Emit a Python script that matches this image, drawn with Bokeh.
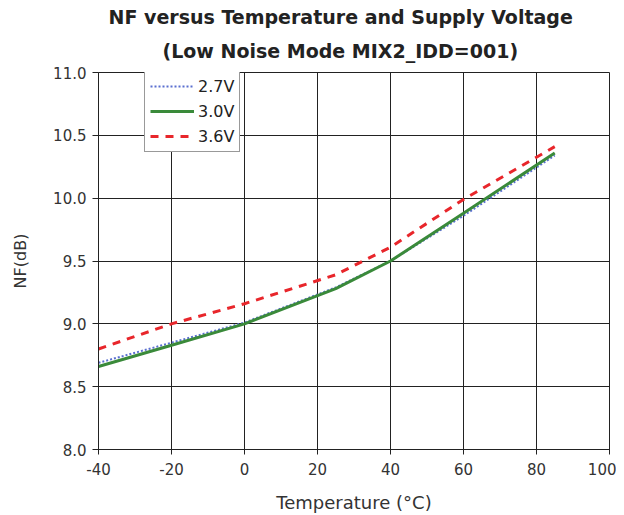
from bokeh.plotting import figure
from bokeh.models import Range1d, FixedTicker, Title, Legend, LegendItem, NumeralTickFormatter
from bokeh.embed import file_html
from bokeh.resources import INLINE

temps = [-40, -20, 0, 25, 40, 60, 85]
nf_27 = [8.69, 8.85, 9.01, 9.29, 9.50, 9.86, 10.34]
nf_30 = [8.66, 8.83, 9.00, 9.28, 9.50, 9.88, 10.36]
nf_36 = [8.80, 9.00, 9.16, 9.39, 9.61, 9.99, 10.41]
x_ticks = [-40, -20, 0, 20, 40, 60, 80, 100]
y_ticks = [8.0, 8.5, 9.0, 9.5, 10.0, 10.5, 11.0]

FONT = "DejaVu Sans"

p = figure(width=616, height=515, output_backend="svg", toolbar_location=None,
           x_range=Range1d(-40, 100), y_range=Range1d(8, 11),
           min_border_left=98, min_border_right=7, min_border_bottom=66, min_border_top=72)
p.title = None

t2 = Title(text="(Low Noise Mode MIX2_IDD=001)", align="left", text_font=FONT,
           text_font_size="19px", text_font_style="bold", text_color="#222222",
           standoff=20, offset=64, vertical_align="middle")
t1 = Title(text="NF versus Temperature and Supply Voltage", align="left", text_font=FONT,
           text_font_size="19px", text_font_style="bold", text_color="#222222",
           standoff=2, offset=10)
p.add_layout(t2, "above")
p.add_layout(t1, "above")

p.outline_line_color = "#222222"
p.outline_line_width = 1

for ax in (p.xaxis[0], p.yaxis[0]):
    ax.axis_line_color = "#222222"
    ax.major_tick_line_color = "#222222"
    ax.minor_tick_line_color = None
    ax.major_label_text_font = FONT
    ax.major_label_text_font_size = "15px"
    ax.major_label_text_color = "#333333"
    ax.axis_label_text_font = FONT
    ax.axis_label_text_font_style = "normal"
    ax.axis_label_text_color = "#333333"

p.xaxis.ticker = FixedTicker(ticks=x_ticks)
p.yaxis.ticker = FixedTicker(ticks=y_ticks)
p.xaxis.formatter = NumeralTickFormatter(format="0")
p.yaxis.formatter = NumeralTickFormatter(format="0.0")
p.xaxis.major_tick_in = 5
p.xaxis.major_tick_out = 5
p.yaxis.major_tick_in = 0
p.yaxis.major_tick_out = 6
p.xaxis.major_label_standoff = 8
p.yaxis.major_label_standoff = 6
p.xaxis.axis_label = "Temperature (°C)"
p.yaxis.axis_label = "NF(dB)"
p.xaxis.axis_label_text_font_size = "18px"
p.yaxis.axis_label_text_font_size = "16px"
p.xaxis.axis_label_standoff = 14
p.yaxis.axis_label_standoff = 20

p.xgrid.ticker = FixedTicker(ticks=x_ticks)
p.ygrid.ticker = FixedTicker(ticks=y_ticks)
for g in (p.xgrid[0], p.ygrid[0]):
    g.grid_line_color = "#222222"
    g.grid_line_width = 1

r27 = p.line(temps, nf_27, line_color="#5a6fd0", line_width=2, line_dash="2 2")
r30 = p.line(temps, nf_30, line_color="#3a8a3a", line_width=3)
r36 = p.line(temps, nf_36, line_color="#e8262b", line_width=3, line_dash="8 7")

legend = Legend(items=[LegendItem(label="2.7V", renderers=[r27]),
                       LegendItem(label="3.0V", renderers=[r30]),
                       LegendItem(label="3.6V", renderers=[r36])],
                location=(46, 297), orientation="vertical",
                label_text_font=FONT, label_text_font_size="16px", label_text_color="#222222",
                glyph_width=44, glyph_height=20, label_height=20, spacing=5, padding=5,
                label_standoff=4, border_line_color="#333333", border_line_width=1,
                background_fill_color="white", background_fill_alpha=1.0, margin=0)
p.add_layout(legend, "center")

open("out.html", "w").write(file_html(p, INLINE))
